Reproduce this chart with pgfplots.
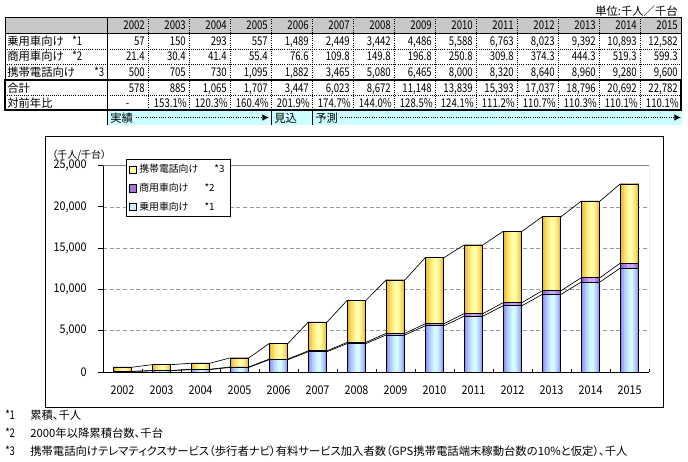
\documentclass[border=0pt]{standalone}
\usepackage{fontspec}
\usepackage{pgfplots}
\pgfplotsset{compat=1.18}
\usepackage{pgfplotstable}
\usetikzlibrary{arrows.meta}
\setmainfont{Noto Sans CJK JP}
\newfontfamily\nf{Noto Sans CJK JP}[FakeStretch=0.8]
\newfontfamily\nfb{Noto Sans CJK JP}[FakeStretch=0.9]
\newfontfamily\jp{Noto Sans CJK JP}[RawFeature=+palt]
\newcommand\tf{\nf\fontsize{9}{10}\selectfont}
\newcommand\tj{\fontsize{8.5}{10}\selectfont}
\newcommand\cf{\nfb\fontsize{9}{10}\selectfont}
\definecolor{hdr}{RGB}{200,200,200}
\definecolor{cyanrow}{RGB}{204,255,255}
\definecolor{y1}{RGB}{232,184,48}
\definecolor{y2}{RGB}{242,205,80}
\definecolor{y3}{RGB}{250,225,110}
\definecolor{y4}{RGB}{255,242,140}
\definecolor{y5}{RGB}{255,252,172}
\definecolor{b1}{RGB}{140,140,255}
\definecolor{b2}{RGB}{160,172,255}
\definecolor{b3}{RGB}{178,205,255}
\definecolor{b4}{RGB}{195,230,255}
\definecolor{b5}{RGB}{212,250,255}
\definecolor{p1}{RGB}{150,100,210}
\definecolor{p2}{RGB}{175,130,230}
\definecolor{p3}{RGB}{200,165,245}
\definecolor{ylg}{RGB}{255,255,153}
\definecolor{plg}{RGB}{160,120,210}
\definecolor{blg}{RGB}{204,236,255}

\pgfplotstableread{
i a b c
0 57 21.4 500
1 150 30.4 705
2 293 41.4 730
3 557 55.4 1095
4 1489 76.6 1882
5 2449 109.8 3465
6 3442 149.8 5080
7 4486 196.8 6465
8 5588 250.8 8000
9 6763 309.8 8320
10 8023 374.3 8640
11 9392 444.3 8960
12 10893 519.3 9280
13 12582 599.3 9600
}\data

\pgfplotstableread{
x a b c
-0.24 57 21.4 500
0.24 57 21.4 500
0.76 150 30.4 705
1.24 150 30.4 705
1.76 293 41.4 730
2.24 293 41.4 730
2.76 557 55.4 1095
3.24 557 55.4 1095
3.76 1489 76.6 1882
4.24 1489 76.6 1882
4.76 2449 109.8 3465
5.24 2449 109.8 3465
5.76 3442 149.8 5080
6.24 3442 149.8 5080
6.76 4486 196.8 6465
7.24 4486 196.8 6465
7.76 5588 250.8 8000
8.24 5588 250.8 8000
8.76 6763 309.8 8320
9.24 6763 309.8 8320
9.76 8023 374.3 8640
10.24 8023 374.3 8640
10.76 9392 444.3 8960
11.24 9392 444.3 8960
11.76 10893 519.3 9280
12.24 10893 519.3 9280
12.76 12582 599.3 9600
13.24 12582 599.3 9600
}\slines

\newcommand\barlayer[4]{\addplot[ybar, bar width=#1, bar shift=#2, draw=none, fill=#3, forget plot] table[x=i, y expr=#4] {\data};}

\begin{document}
\begin{tikzpicture}
\begin{scope}[x=0.75pt,y=-0.75pt]
\useasboundingbox (0,0) rectangle (688,461);
% unit
\node[anchor=base east, inner sep=0] at (678,15) {\tj 単位:千人／千台};
% table fills
\fill[hdr] (5,17) rectangle (681,33);
\fill[cyanrow] (107,110) rectangle (682,125);
% grid
\foreach \k in {0,...,12} \draw[densely dotted, line width=0.6pt] ({148+41*\k},17) -- ({148+41*\k},110);
\foreach \yy in {49,64.5,95} \draw[densely dotted, line width=0.6pt] (5,\yy) -- (681,\yy);
\draw[line width=0.6pt] (5,33) -- (681,33);
\draw[line width=0.6pt] (5,17) rectangle (681,80);
\draw[line width=0.6pt] (107,17) -- (107,125);
\draw[line width=0.6pt] (271,110) -- (271,125);
\draw[line width=0.6pt] (312,110) -- (312,125);
\draw[line width=1.6pt] (5,80) rectangle (681,110);
% header
\foreach \v [count=\k from 0] in {2002,2003,2004,2005,2006,2007,2008,2009,2010,2011,2012,2013,2014,2015}
  \node[anchor=base east, inner sep=0] at ({145+41*\k},29) {\tf\v};
% row labels
\node[anchor=base west, inner sep=0] at (7,45) {\tj 乗用車向け};
\node[anchor=base west, inner sep=0] at (72,45) {\tf *1};
\node[anchor=base west, inner sep=0] at (7,60.5) {\tj 商用車向け};
\node[anchor=base west, inner sep=0] at (72,60.5) {\tf *2};
\node[anchor=base west, inner sep=0] at (7,76) {\tj 携帯電話向け};
\node[anchor=base west, inner sep=0] at (94,76) {\tf *3};
\node[anchor=base west, inner sep=0] at (7,92) {\tj 合計};
\node[anchor=base west, inner sep=0] at (7,107) {\tj 対前年比};
% rows
\foreach \v [count=\k from 0] in {57,150,293,557,{1,489},{2,449},{3,442},{4,486},{5,588},{6,763},{8,023},{9,392},{10,893},{12,582}}
  \node[anchor=base east, inner sep=0] at ({145+41*\k},45) {\tf\v};
\foreach \v [count=\k from 0] in {21.4,30.4,41.4,55.4,76.6,109.8,149.8,196.8,250.8,309.8,374.3,444.3,519.3,599.3}
  \node[anchor=base east, inner sep=0] at ({145+41*\k},60.5) {\tf\v};
\foreach \v [count=\k from 0] in {500,705,730,{1,095},{1,882},{3,465},{5,080},{6,465},{8,000},{8,320},{8,640},{8,960},{9,280},{9,600}}
  \node[anchor=base east, inner sep=0] at ({145+41*\k},76) {\tf\v};
\foreach \v [count=\k from 0] in {578,885,{1,065},{1,707},{3,447},{6,023},{8,672},{11,148},{13,839},{15,393},{17,037},{18,796},{20,692},{22,782}}
  \node[anchor=base east, inner sep=0] at ({145+41*\k},92) {\tf\v};
\node[anchor=base, inner sep=0] at (127.5,107) {\tf -};
\foreach \v [count=\k from 1] in {153.1\%,120.3\%,160.4\%,201.9\%,174.7\%,144.0\%,128.5\%,124.1\%,111.2\%,110.7\%,110.3\%,110.1\%,110.1\%}
  \node[anchor=base east, inner sep=0] at ({146+41*\k},107) {\tf\v};
% status row
\node[anchor=base west, inner sep=0] at (110,122) {\tj 実績};
\node[anchor=base west, inner sep=0] at (274,122) {\tj 見込};
\node[anchor=base west, inner sep=0] at (315,122) {\tj 予測};
\draw[densely dotted, line width=0.7pt, -{Latex[length=5pt,width=5pt]}] (136,117.5) -- (269,117.5);
\draw[densely dotted, line width=0.7pt, -{Latex[length=5pt,width=5pt]}] (340,117.5) -- (681,117.5);
% chart frame
\draw[line width=0.6pt] (45,136) rectangle (663,407);
\node[anchor=west, inner sep=0] at (52,155) {\jp\fontsize{7.5}{9}\selectfont （千人/千台）};
% footnotes
\node[anchor=base west, inner sep=0] at (5,419) {\tf *1};
\node[anchor=base west, inner sep=0] at (30,419) {\jp\tj 累積、千人};
\node[anchor=base west, inner sep=0] at (5,437) {\tf *2};
\node[anchor=base west, inner sep=0] at (30,437) {\jp\tj 2000年以降累積台数、千台};
\node[anchor=base west, inner sep=0] at (5,455) {\tf *3};
\node[anchor=base west, inner sep=0] at (30,455) {\jp\tj 携帯電話向けテレマティクスサービス（歩行者ナビ）有料サービス加入者数（GPS携帯電話端末稼動台数の10\%と仮定）、千人};
\end{scope}

\begin{axis}[
  at={(77.25pt,-279pt)}, anchor=south west,
  scale only axis, width=409.5pt, height=154.8pt,
  xmin=-0.5, xmax=13.5, ymin=0, ymax=25000,
  axis lines=left, x axis line style={-, line width=0.6pt}, y axis line style={-, line width=0.6pt},
  ytick={0,5000,...,25000}, scaled y ticks=false,
  ymajorgrids, grid style={densely dashed, gray!80, line width=0.5pt},
  xtick={0,...,13},
  xticklabels={2002,2003,2004,2005,2006,2007,2008,2009,2010,2011,2012,2013,2014,2015},
  major x tick style={draw=none},
  minor xtick={-0.5,0.5,...,13.5},
  xtick align=inside, ytick align=outside,
  major tick length=3.75pt, minor tick length=2.5pt,
  tick style={black, line width=0.6pt},
  /pgf/number format/.cd, 1000 sep={,}, assume math mode=true, /pgfplots/.cd,
  yticklabel style={font=\cf, xshift=-5pt},
  xticklabel style={font=\cf, yshift=-7pt},
  legend style={at={(0.042,1.03)}, anchor=north west, draw=black, fill=white,
    font=\fontsize{7.4}{8}\selectfont, inner xsep=2pt, inner ysep=1.5pt, row sep=2.3pt,
    cells={anchor=west}},
  legend cell align=left,
]
\draw[gray, line width=0.6pt] (rel axis cs:0,1) -- (rel axis cs:1,1) -- (rel axis cs:1,0);
% series lines
\addplot[black, line width=0.5pt, forget plot] table[x=x, y=a] {\slines};
\addplot[black, line width=0.5pt, forget plot] table[x=x, y expr=\thisrow{a}+\thisrow{b}] {\slines};
\addplot[black, line width=0.5pt, forget plot] table[x=x, y expr=\thisrow{a}+\thisrow{b}+\thisrow{c}] {\slines};
% yellow (携帯電話向け), drawn to the stacked total
\addplot[ybar, bar width=0.48, bar shift=0pt, draw=none, fill=y1,
  legend image code/.code={\draw[draw=black, fill=ylg, line width=0.4pt] (0pt,-2.7pt) rectangle (5.4pt,2.7pt);}]
  table[x=i, y expr=\thisrow{a}+\thisrow{b}+\thisrow{c}] {\data};
\addlegendentry{携帯電話向け\hspace{12pt}*3}
\barlayer{0.40}{0.01}{y2}{\thisrow{a}+\thisrow{b}+\thisrow{c}}
\barlayer{0.31}{0.02}{y3}{\thisrow{a}+\thisrow{b}+\thisrow{c}}
\barlayer{0.21}{0.025}{y4}{\thisrow{a}+\thisrow{b}+\thisrow{c}}
\barlayer{0.11}{0.03}{y5}{\thisrow{a}+\thisrow{b}+\thisrow{c}}
% purple (商用車向け)
\addplot[ybar, bar width=0.48, bar shift=0pt, draw=none, fill=p1,
  legend image code/.code={\draw[draw=black, fill=plg, line width=0.4pt] (0pt,-2.7pt) rectangle (5.4pt,2.7pt);}]
  table[x=i, y expr=\thisrow{a}+\thisrow{b}] {\data};
\addlegendentry{商用車向け\hspace{12pt}*2}
\barlayer{0.34}{0.01}{p2}{\thisrow{a}+\thisrow{b}}
\barlayer{0.18}{0.02}{p3}{\thisrow{a}+\thisrow{b}}
% blue (乗用車向け)
\addplot[ybar, bar width=0.48, bar shift=0pt, draw=none, fill=b1,
  legend image code/.code={\draw[draw=black, fill=blg, line width=0.4pt] (0pt,-2.7pt) rectangle (5.4pt,2.7pt);}]
  table[x=i, y=a] {\data};
\addlegendentry{乗用車向け\hspace{12pt}*1}
\barlayer{0.40}{0.01}{b2}{\thisrow{a}}
\barlayer{0.31}{0.02}{b3}{\thisrow{a}}
\barlayer{0.21}{0.025}{b4}{\thisrow{a}}
\barlayer{0.11}{0.03}{b5}{\thisrow{a}}
% outlines
\addplot[ybar, bar width=0.48, bar shift=0pt, draw=black, fill=none, line width=0.6pt, forget plot]
  table[x=i, y expr=\thisrow{a}+\thisrow{b}+\thisrow{c}] {\data};
\addplot[ybar, bar width=0.48, bar shift=0pt, draw=black, fill=none, line width=0.6pt, forget plot]
  table[x=i, y expr=\thisrow{a}+\thisrow{b}] {\data};
\addplot[ybar, bar width=0.48, bar shift=0pt, draw=black, fill=none, line width=0.6pt, forget plot]
  table[x=i, y=a] {\data};
\end{axis}
\end{tikzpicture}
\end{document}
